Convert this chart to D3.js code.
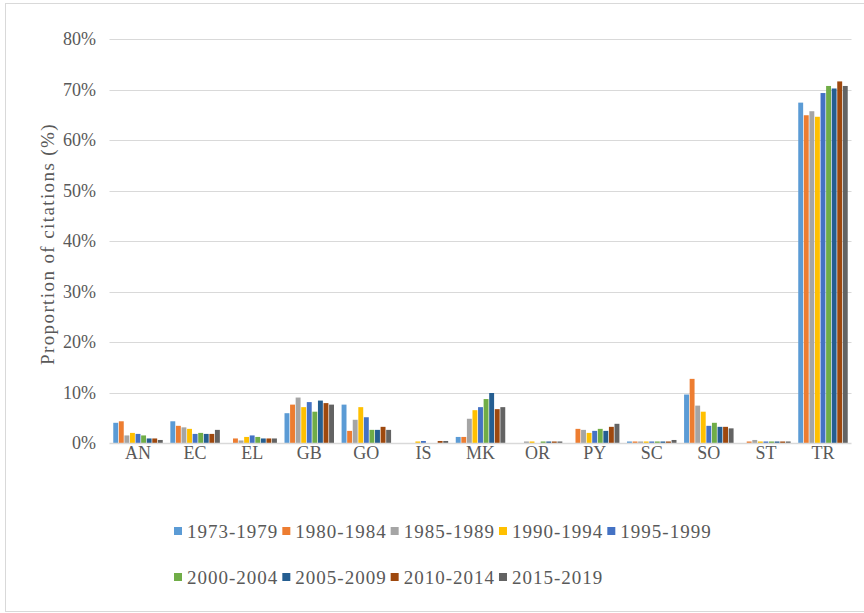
<!DOCTYPE html>
<html>
<head>
<meta charset="utf-8">
<script src="https://cdn.jsdelivr.net/npm/d3@7.9.0/dist/d3.min.js"></script>
<style>
  body { margin: 0; background: #fff; }
  svg text { font-family: "Liberation Serif", "Times New Roman", serif; fill: #595959; }
</style>
</head>
<body>
<svg id="chart" width="864" height="613"></svg>
<script>
const categories = ['AN', 'EC', 'EL', 'GB', 'GO', 'IS', 'MK', 'OR', 'PY', 'SC', 'SO', 'ST', 'TR'];
const periods = ['1973-1979', '1980-1984', '1985-1989', '1990-1994', '1995-1999',
  '2000-2004', '2005-2009', '2010-2014', '2015-2019'];
const colors = ['#5B9BD5', '#ED7D31', '#A5A5A5', '#FFC000', '#4472C4',
  '#70AD47', '#255E91', '#9E480E', '#636363'];

// values in percent, one array per period, in category order
const s1973 = [4.0, 4.3, 0, 5.9, 7.6, 0, 1.2, 0, 0, 0.3, 9.6, 0, 67.4];
const s1980 = [4.3, 3.4, 0.9, 7.6, 2.4, 0, 1.2, 0, 2.8, 0.3, 12.7, 0.3, 64.9];
const s1985 = [1.5, 3.1, 0.5, 9.0, 4.6, 0, 4.8, 0.3, 2.6, 0.3, 7.4, 0.6, 65.7];
const s1990 = [2.0, 2.8, 1.2, 7.1, 7.1, 0.3, 6.5, 0.3, 2.0, 0.3, 6.2, 0.3, 64.6];
const s1995 = [1.8, 1.8, 1.5, 8.1, 5.1, 0.4, 7.1, 0, 2.4, 0.3, 3.4, 0.3, 69.3];
const s2000 = [1.5, 2.0, 1.2, 6.2, 2.6, 0, 8.7, 0.3, 2.8, 0.3, 4.0, 0.3, 70.7];
const s2005 = [0.9, 1.8, 0.9, 8.4, 2.6, 0, 9.9, 0.3, 2.4, 0.3, 3.2, 0.3, 70.2];
const s2010 = [0.9, 1.8, 0.9, 7.9, 3.2, 0.4, 6.7, 0.3, 3.2, 0.3, 3.2, 0.3, 71.6];
const s2015 = [0.6, 2.6, 0.9, 7.6, 2.6, 0.4, 7.1, 0.3, 3.8, 0.6, 2.9, 0.3, 70.7];
const series = [s1973, s1980, s1985, s1990, s1995, s2000, s2005, s2010, s2015];
const yTicks = [0, 10, 20, 30, 40, 50, 60, 70, 80];

const svg = d3.select('#chart');

// chart border
svg.append('rect')
  .attr('x', 5.5).attr('y', 3.5)
  .attr('width', 870).attr('height', 608)
  .attr('fill', 'none').attr('stroke', '#D9D9D9').attr('stroke-width', 1);

const x0 = d3.scaleBand().domain(categories).range([109.5, 851.5])
  .paddingInner(0.133).paddingOuter(0.066);
const x1 = d3.scaleBand().domain(d3.range(periods.length)).range([0, x0.bandwidth()])
  .paddingInner(0.12);
const y = d3.scaleLinear().domain([0, 80]).range([443, 39]);

// gridlines
svg.append('g').selectAll('line').data(yTicks.filter(d => d > 0)).join('line')
  .attr('x1', 109.5).attr('x2', 851.5)
  .attr('y1', d => Math.round(y(d)) + 0.5).attr('y2', d => Math.round(y(d)) + 0.5)
  .attr('stroke', '#D9D9D9').attr('stroke-width', 1);

// bars
const groups = svg.append('g').selectAll('g').data(categories).join('g')
  .attr('transform', d => `translate(${x0(d)},0)`);
groups.selectAll('rect')
  .data((c, ci) => series.map((s, si) => ({ si, v: s[ci] })))
  .join('rect')
  .attr('x', d => x1(d.si))
  .attr('width', x1.bandwidth())
  .attr('y', d => y(d.v))
  .attr('height', d => y(0) - y(d.v))
  .attr('fill', d => colors[d.si]);

// baseline
svg.append('line')
  .attr('x1', 109.5).attr('x2', 851.5)
  .attr('y1', 443.5).attr('y2', 443.5)
  .attr('stroke', '#D9D9D9').attr('stroke-width', 1.5);

// y tick labels
svg.append('g').selectAll('text').data(yTicks).join('text')
  .attr('x', 96).attr('y', d => y(d))
  .attr('dy', '0.35em')
  .attr('text-anchor', 'end')
  .style('font-size', '18px')
  .text(d => d + '%');

// x labels
svg.append('g').selectAll('text').data(categories).join('text')
  .attr('x', d => x0(d) + x0.bandwidth() / 2)
  .attr('y', 453)
  .attr('dy', '0.35em')
  .attr('text-anchor', 'middle')
  .style('font-size', '18px')
  .text(d => d);

// y axis title
svg.append('text')
  .attr('transform', 'translate(47,244) rotate(-90)')
  .attr('dy', '0.35em')
  .attr('text-anchor', 'middle')
  .style('font-size', '19px')
  .style('letter-spacing', '1.4px')
  .text('Proportion of citations (%)');

// legend
const rows = [[0, 1, 2, 3, 4], [5, 6, 7, 8]];
const rowY = [531, 577];
rows.forEach((row, ri) => {
  let lx = 174;
  row.forEach(i => {
    const g = svg.append('g').attr('transform', `translate(${lx},${rowY[ri]})`);
    g.append('rect').attr('x', 0).attr('y', -4).attr('width', 8).attr('height', 8)
      .attr('fill', colors[i]);
    const t = g.append('text').attr('x', 13).attr('y', 0).attr('dy', '0.35em')
      .style('font-size', '19px').style('letter-spacing', '1px').text(periods[i]);
    lx += 13 + t.node().getComputedTextLength() + 4;
  });
});
</script>
</body>
</html>
